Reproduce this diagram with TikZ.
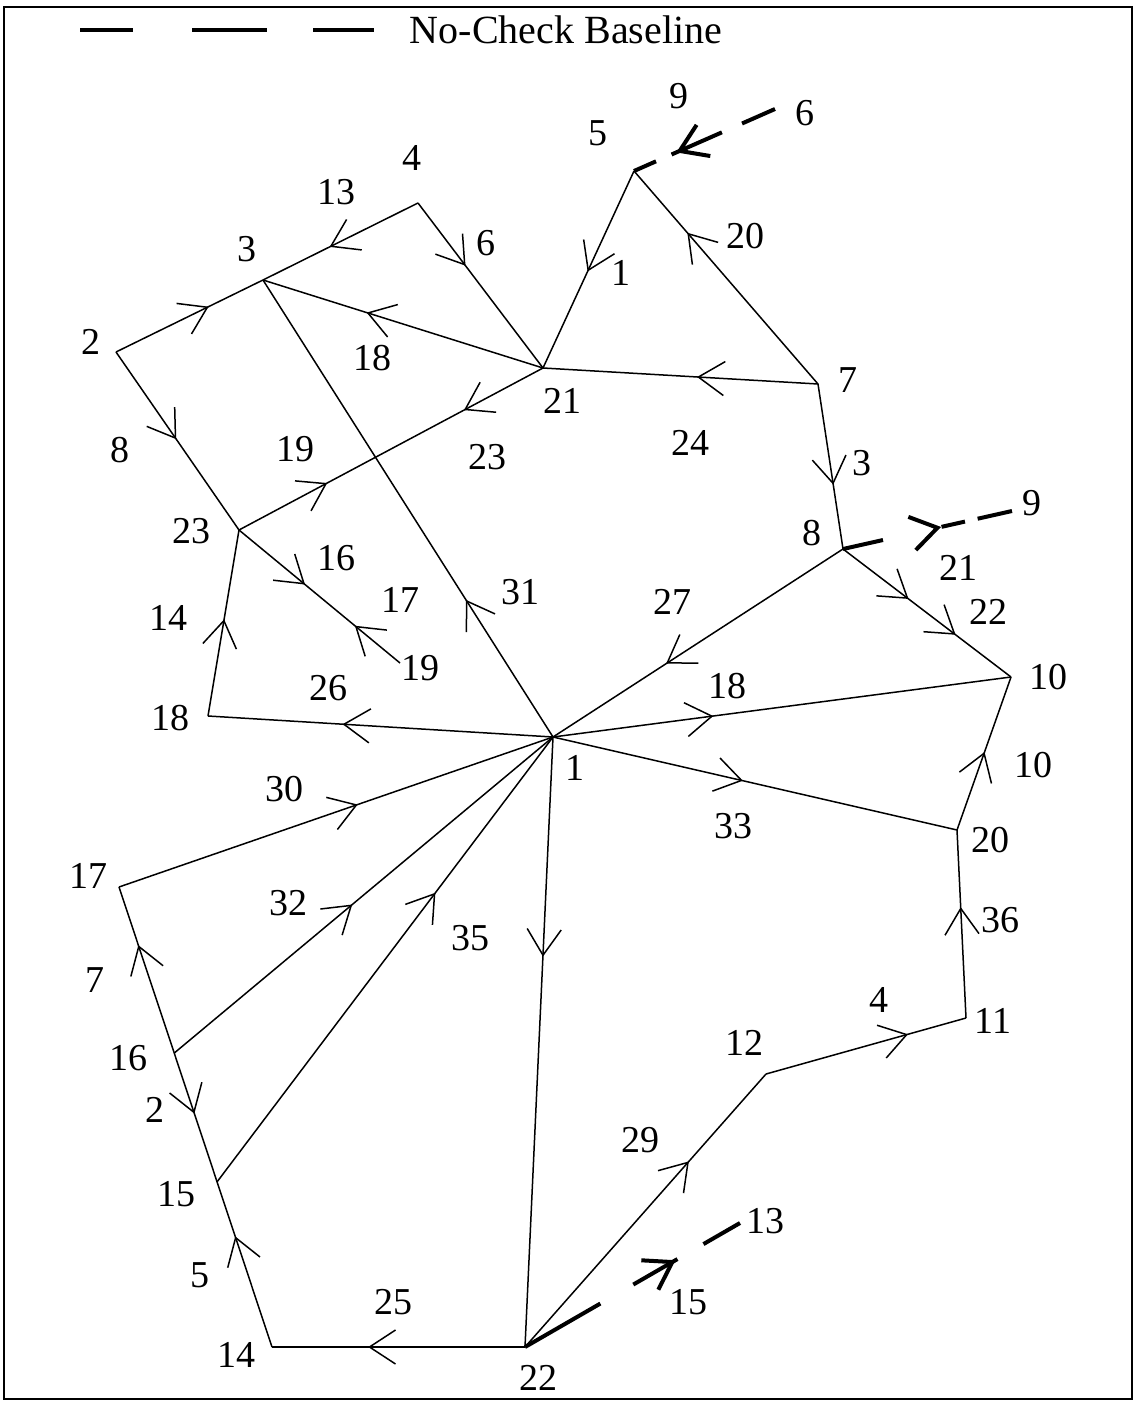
\documentclass[tikz,border=0pt]{standalone}
\usepackage{fontspec}
\setmainfont{Liberation Serif}
\usetikzlibrary{arrows.meta,decorations.markings,calc}
\begin{document}
\begin{tikzpicture}[x=1pt,y=-1pt,
  edge/.style={line width=1.5pt},
  base/.style={line width=4pt},
  bb/.tip={Straight Barb[length=26pt,width=34pt]},
  fwd/.style={postaction={decorate,decoration={markings,mark=at position #1 with {\arrow{bb}}}}},
  bwd/.style={postaction={decorate,decoration={markings,mark=at position #1 with {\arrowreversed{bb}}}}},
  lbl/.style={inner sep=0pt,font=\fontsize{38}{40}\selectfont},
  leg/.style={inner sep=0pt,font=\fontsize{40}{42}\selectfont}]
\useasboundingbox (0,0) rectangle (1135,1405);
\draw[line width=2pt] (4,7) rectangle (1132,1399);

% legend
\coordinate (LA) at (80,30);
\coordinate (LB) at (374,30);
\draw[base,dash pattern=on 53pt off 59pt on 75pt off 46pt on 61pt] (LA) -- (LB);
\node[leg] (legtxt) at (566,30) {No-Check Baseline};

% points
\coordinate (N1) at (553,737);
\coordinate (N2) at (116,352);
\coordinate (N3) at (263,280);
\coordinate (N4) at (418,203);
\coordinate (N5) at (634,171);
\coordinate (N7) at (818,384);
\coordinate (N8) at (843,549);
\coordinate (N10) at (1011,677);
\coordinate (N11) at (966,1018);
\coordinate (N12) at (766,1074);
\coordinate (N14) at (272,1347);
\coordinate (N17) at (119,887);
\coordinate (N16) at ($(N17)!0.361!(N14)$);
\coordinate (N15) at ($(N17)!0.641!(N14)$);
\coordinate (N18) at (208,716);
\coordinate (N19) at (400,663);
\coordinate (N20) at (957,830);
\coordinate (N21) at (543,368);
\coordinate (N22) at (525,1347);
\coordinate (N23) at (239,530);
\coordinate (E6) at (775,109);
\coordinate (E9) at (1012,511);
\coordinate (E13) at (740,1223);

% baseline dashed connectors
\draw[base,dash pattern=on 36pt off 22pt on 55pt off 17pt on 30pt,fwd=0.70] (E6) -- (N5);
\draw[base,dash pattern=on 41pt off 60pt on 24pt off 13pt on 40pt,fwd=0.58] (N8) -- (E9);
\draw[base,dash pattern=on 87pt off 38pt on 51pt off 30pt on 50pt,fwd=0.70] (N22) -- (E13);

% edges
\draw[edge,fwd=0.63] (N2) -- (N3);
\draw[edge,fwd=0.57] (N4) -- (N3);
\draw[edge,fwd=0.38] (N4) -- (N21);
\draw[edge,fwd=0.51] (N5) -- (N21);
\draw[edge,fwd=0.71] (N7) -- (N5);
\draw[edge,fwd=0.44] (N7) -- (N21);
\draw[edge,fwd=0.63] (N21) -- (N3);
\draw[edge,fwd=0.26,bwd=0.71] (N21) -- (N23);
\draw[edge,fwd=0.30] (N1) -- (N3);
\draw[edge,fwd=0.49] (N2) -- (N23);
\draw[edge,fwd=0.41,bwd=0.72] (N23) -- (N19);
\draw[edge,fwd=0.52] (N18) -- (N23);
\draw[edge,fwd=0.61] (N1) -- (N18);
\draw[edge,fwd=0.61] (N8) -- (N1);
\draw[edge,fwd=0.35] (N1) -- (N10);
\draw[edge,fwd=0.47] (N1) -- (N20);
\draw[edge,fwd=0.51] (N20) -- (N10);
\draw[edge,fwd=0.59] (N11) -- (N20);
\draw[edge,fwd=0.71] (N12) -- (N11);
\draw[edge,fwd=0.68] (N22) -- (N12);
\draw[edge,fwd=0.62] (N22) -- (N14);
\draw[edge,fwd=0.36] (N1) -- (N22);
\draw[edge,fwd=0.55] (N17) -- (N1);
\draw[edge,fwd=0.47] (N16) -- (N1);
\draw[edge,fwd=0.65] (N15) -- (N1);
\draw[edge,fwd=0.65] (N16) -- (N17);
\draw[edge,fwd=0.47] (N16) -- (N15);
\draw[edge,fwd=0.67] (N14) -- (N15);
\draw[edge,fwd=0.61] (N7) -- (N8);
\draw[edge,fwd=0.39,fwd=0.67] (N8) -- (N10);

% labels
\node[lbl] (t1) at (91,342) {2};
\node[lbl] (t2) at (247,249) {3};
\node[lbl] (t3) at (412,158) {4};
\node[lbl] (t4) at (336,192) {13};
\node[lbl] (t5) at (486,243) {6};
\node[lbl] (t6) at (598,133) {5};
\node[lbl] (t7) at (679,96) {9};
\node[lbl] (t8) at (805,113) {6};
\node[lbl] (t9) at (621,273) {1};
\node[lbl] (t10) at (745,236) {20};
\node[lbl] (t11) at (372,358) {18};
\node[lbl] (t12) at (562,401) {21};
\node[lbl] (t13) at (848,380) {7};
\node[lbl] (t14) at (120,450) {8};
\node[lbl] (t15) at (295,449) {19};
\node[lbl] (t16) at (487,457) {23};
\node[lbl] (t17) at (690,443) {24};
\node[lbl] (t18) at (862,463) {3};
\node[lbl] (t19) at (191,531) {23};
\node[lbl] (t20) at (336,558) {16};
\node[lbl] (t21) at (400,600) {17};
\node[lbl] (t22) at (520,592) {31};
\node[lbl] (t23) at (672,602) {27};
\node[lbl] (t24) at (812,533) {8};
\node[lbl] (t25) at (1032,503) {9};
\node[lbl] (t26) at (958,568) {21};
\node[lbl] (t27) at (988,612) {22};
\node[lbl] (t28) at (168,618) {14};
\node[lbl] (t29) at (420,668) {19};
\node[lbl] (t30) at (328,688) {26};
\node[lbl] (t31) at (170,718) {18};
\node[lbl] (t32) at (727,686) {18};
\node[lbl] (t33) at (1048,677) {10};
\node[lbl] (t34) at (575,768) {1};
\node[lbl] (t35) at (284,789) {30};
\node[lbl] (t36) at (1033,765) {10};
\node[lbl] (t37) at (733,826) {33};
\node[lbl] (t38) at (990,840) {20};
\node[lbl] (t39) at (88,876) {17};
\node[lbl] (t40) at (288,903) {32};
\node[lbl] (t41) at (470,938) {35};
\node[lbl] (t42) at (1000,920) {36};
\node[lbl] (t43) at (95,980) {7};
\node[lbl] (t44) at (879,1000) {4};
\node[lbl] (t45) at (993,1021) {11};
\node[lbl] (t46) at (744,1043) {12};
\node[lbl] (t47) at (128,1058) {16};
\node[lbl] (t48) at (155,1110) {2};
\node[lbl] (t49) at (640,1140) {29};
\node[lbl] (t50) at (176,1194) {15};
\node[lbl] (t51) at (765,1221) {13};
\node[lbl] (t52) at (200,1275) {5};
\node[lbl] (t53) at (393,1302) {25};
\node[lbl] (t54) at (688,1302) {15};
\node[lbl] (t55) at (236,1355) {14};
\node[lbl] (t56) at (538,1378) {22};
\end{tikzpicture}
\end{document}
